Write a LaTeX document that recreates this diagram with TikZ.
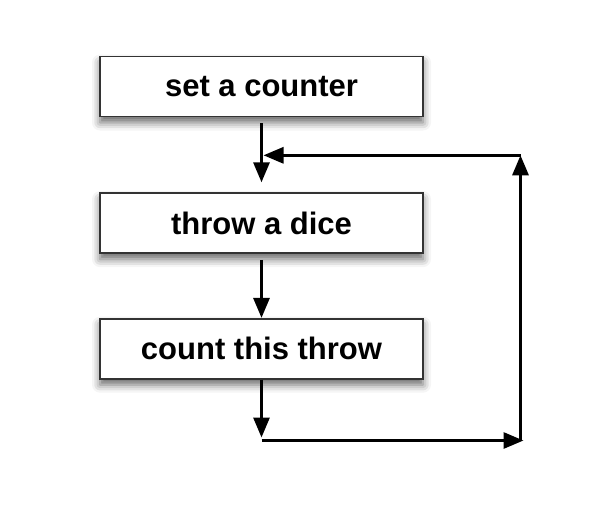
\documentclass[tikz,border=0pt]{standalone}
\usepackage{fontspec}
\setmainfont{Liberation Sans}
\usetikzlibrary{positioning,shadows.blur,arrows.meta}

\begin{document}
\begin{tikzpicture}[
    node distance = 37.5pt,
    stepbox/.style  = {draw=black!80,
                       line width=0.8pt,
                       fill=white,
                       minimum width=161.5pt,
                       minimum height=30pt,
                       font=\fontsize{15.5}{18}\selectfont\bfseries,
                       blur shadow={shadow xshift=0pt,
                                    shadow yshift=-3pt,
                                    shadow blur radius=4pt,
                                    shadow opacity=60}},
    arr/.style      = {line width=1.5pt,
                       -{Triangle[length=10pt,width=8pt]}}
]
\useasboundingbox (0,0) rectangle (308pt,-258pt);

\node (b1) [stepbox] at (130.75pt,-43.25pt) {set a counter};
\node (b2) [stepbox, below=of b1] {throw a dice};
\node (b3) [stepbox, below=32pt of b2] {count this throw};

\coordinate[below=30.5pt of b3.south] (bot);
\coordinate[below=19pt of b1.south] (merge);
\coordinate[right=129.5pt of bot] (corner);
\coordinate (topcorner) at (corner |- merge);

\draw[arr, shorten <=3pt, shorten >=5pt] (b1) -- (b2);
\draw[arr, shorten <=3pt] (b2) -- (b3);
\draw[arr, shorten >=1.5pt] (b3) -- (bot);
\draw[arr, shorten >=-1.5pt] (bot) -- (corner);
\draw[arr] (corner) -- (topcorner);
\draw[arr, shorten >=1pt] (topcorner) -- (merge);

\end{tikzpicture}
\end{document}
